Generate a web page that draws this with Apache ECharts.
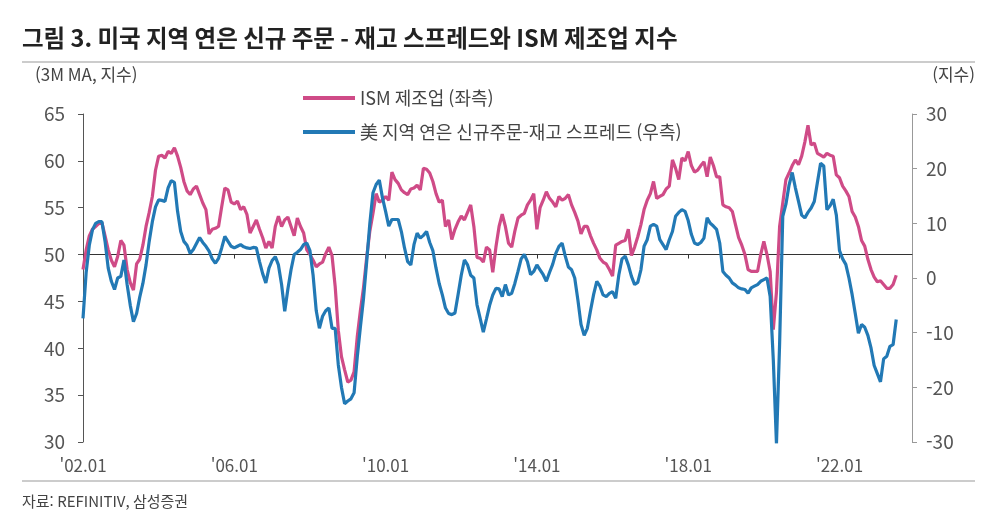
<!DOCTYPE html>
<html lang="ko">
<head>
    <meta charset="UTF-8" />
    <title>미국 지역 연은 신규 주문 - 재고 스프레드와 ISM 제조업 지수</title>
    <style>
        html, body { margin: 0; padding: 0; background: #fff; }
        #main { width: 993px; height: 529px; }
    </style>
</head>
<body>
<div id="main"></div>
<script src="https://cdn.jsdelivr.net/npm/echarts@6/dist/echarts.min.js"></script>
<script type="text/javascript">
    // 월별 카테고리 ('02.01 ~ '23.12)
    var startYear = 2002;
    var endYear = 2023;
    var months = [];
    for (var y = startYear; y <= endYear; y++) {
        for (var mo = 1; mo <= 12; mo++) {
            months.push("'" + String(y).slice(2) + '.' + (mo < 10 ? '0' : '') + mo);
        }
    }
    var labelEvery = 48; // 4년마다 라벨

    // ISM 제조업 (좌측, 3M MA)
    var ismData = [
        48.4, 50.5, 52.0, 52.7, 53.0, 53.3, 53.4, 52.0, 50.5, 49.4, 48.7, 49.8,
        51.5, 51.0, 48.4, 47.0, 46.2, 49.0, 49.5, 51.0, 53.0, 54.5, 56.2, 59.0,
        60.5, 60.6, 60.3, 61.0, 60.8, 61.4, 60.5, 59.3, 57.8, 56.8, 56.4, 57.0,
        57.3, 56.4, 55.5, 54.8, 52.2, 52.7, 52.8, 53.0, 55.1, 57.1, 56.9, 55.6,
        55.4, 55.7, 54.8, 55.1, 54.3, 52.3, 53.0, 53.7, 52.7, 51.8, 50.7, 51.4,
        50.7, 53.0, 54.1, 53.0, 53.7, 54.0, 53.0, 52.0, 53.9, 53.0, 52.3, 50.5,
        50.0, 49.4, 48.7, 49.0, 49.2, 50.1, 50.8, 49.9, 46.6, 41.9, 39.1, 37.7,
        36.4, 36.6, 37.5, 41.2, 44.0, 46.5, 49.7, 52.5, 54.4, 56.5, 55.6, 55.8,
        56.2, 55.8, 58.8, 58.0, 57.6, 56.9, 56.6, 56.4, 57.0, 57.1, 57.4, 56.9,
        59.2, 59.1, 58.7, 57.8, 56.5, 55.6, 55.8, 53.0, 53.7, 51.6, 52.7, 53.5,
        54.1, 53.7, 54.5, 55.3, 53.0, 49.7, 49.6, 49.2, 50.8, 50.5, 48.1, 50.8,
        53.0, 54.3, 53.0, 51.2, 50.8, 52.5, 53.9, 54.2, 54.4, 55.3, 55.8, 56.5,
        52.7, 55.0, 55.8, 56.7, 56.0, 55.6, 55.1, 56.2, 55.8, 56.0, 56.4, 55.3,
        54.5, 53.6, 52.2, 53.0, 53.0, 52.0, 51.2, 50.5, 49.6, 49.2, 49.0, 48.4,
        47.7, 51.0, 51.2, 51.4, 51.5, 52.7, 49.9, 50.8, 51.9, 53.2, 54.8, 55.8,
        56.5, 57.8, 56.0, 56.2, 56.4, 57.0, 57.3, 60.1, 59.2, 58.0, 60.3, 60.0,
        61.0, 59.5, 58.8, 59.0, 59.5, 59.9, 58.3, 60.4, 59.5, 58.3, 58.3, 55.3,
        55.1, 55.0, 54.6, 53.2, 51.8, 51.0, 50.0, 48.4, 48.2, 48.2, 48.2, 50.0,
        51.4, 50.0, 48.2, 42.0, 46.0, 53.0, 55.5, 58.0, 58.7, 59.5, 60.1, 59.6,
        60.5, 62.0, 63.8, 61.7, 61.9, 60.8, 60.6, 60.4, 60.8, 60.6, 60.5, 58.5,
        58.2, 57.3, 56.8, 56.2, 54.6, 54.0, 53.0, 51.5, 50.9, 49.5, 48.4, 47.6,
        47.1, 47.2, 46.8, 46.4, 46.4, 46.8, 47.8
    ];

    // 美 지역 연은 신규주문-재고 스프레드 (우측)
    var spreadData = [
        -7.4, 1.0, 6.0, 8.8, 10.0, 10.3, 10.3, 6.7, 1.8, -0.6, -2.1, 0.0,
        0.3, 3.3, -1.2, -5.0, -8.0, -6.5, -3.5, -1.0, 2.4, 6.7, 10.3, 13.0,
        14.3, 14.2, 14.0, 16.5, 17.8, 17.5, 12.2, 8.5, 6.7, 6.0, 4.5, 5.2,
        6.3, 7.4, 6.5, 5.8, 4.9, 3.5, 2.7, 3.6, 5.5, 7.6, 6.7, 5.8,
        5.5, 5.8, 6.1, 5.7, 5.5, 5.4, 5.6, 5.5, 3.0, 0.8, -0.9, 1.8,
        3.2, 3.9, 2.4, -1.2, -6.1, -2.0, 1.5, 4.3, 4.7, 5.2, 6.1, 6.4,
        5.0, 0.5, -6.0, -9.2, -7.0, -6.0, -5.5, -9.2, -9.2, -15.9, -20.0, -23.0,
        -22.5, -22.1, -21.0, -14.5, -9.0, -3.7, 3.0, 10.0, 15.6, 17.1, 17.9, 14.7,
        12.2, 9.5, 10.7, 10.7, 10.7, 8.5, 5.5, 3.0, 2.4, 6.1, 8.2, 7.3,
        7.8, 8.5, 6.5, 5.0, 1.8, -1.0, -3.1, -5.5, -6.5, -6.7, -6.4, -3.0,
        0.5, 3.3, 2.4, 0.5, 0.0, -4.9, -7.4, -9.9, -7.5, -5.0, -3.1, -1.9,
        -2.0, -3.4, -1.2, -3.1, -2.8, -1.0, 1.2, 3.5, 4.3, 3.0, 0.6, 1.2,
        2.4, 1.5, 0.6, -0.6, 1.0, 2.5, 4.5, 5.8, 6.4, 4.0, 2.0, 1.5,
        0.0, -4.0, -8.5, -10.5, -9.2, -6.0, -3.0, -0.6, -1.5, -3.1, -3.4, -2.8,
        -2.5, -3.7, 0.6, 3.5, 4.0, 2.4, 0.3, -1.2, -0.8, 1.5, 5.8, 7.0,
        9.5, 9.8, 9.5, 7.0, 6.1, 5.2, 7.0, 8.5, 11.3, 12.0, 12.5, 12.2,
        10.5, 8.0, 6.4, 6.1, 6.5, 7.3, 11.0, 10.0, 9.5, 8.9, 6.4, 1.2,
        0.5, 0.0, -0.9, -1.3, -1.8, -2.0, -2.1, -2.8, -1.8, -1.5, -1.2, -0.6,
        -0.3, 0.0, -3.4, -15.0, -30.3, -12.0, 11.3, 13.5, 17.0, 19.3, 16.5, 14.0,
        11.5, 11.0, 12.0, 12.8, 14.0, 17.5, 21.0, 20.5, 12.5, 13.2, 14.4, 11.5,
        5.0, 3.5, 2.5, 0.0, -3.0, -6.5, -10.1, -8.5, -9.0, -10.5, -12.8, -16.0,
        -17.5, -19.0, -14.8, -14.3, -12.5, -12.2, -7.6
    ];

    var ismName = 'ISM 제조업 (좌측)';
    var spreadName = '美 지역 연은 신규주문-재고 스프레드 (우측)';
    var leftRange = [30, 65, 5];
    var rightRange = [-30, 30, 10];
    var baseLevel = 50;

    var fontFamily = '"Noto Sans CJK KR", "Noto Sans", sans-serif';
    var gridTop = 114, gridBottom = 87, chartH = 529;
    var gridH = chartH - gridTop - gridBottom;
    var baseOffset = -gridH * (baseLevel - leftRange[0]) / (leftRange[1] - leftRange[0]);

    var myChart = echarts.init(document.getElementById('main'));

    var option = {
        backgroundColor: '#fff',
        animation: false,
        textStyle: { fontFamily: fontFamily },
        grid: { left: 83, right: 81, top: gridTop, bottom: gridBottom },
        legend: {
            orient: 'vertical',
            left: 298,
            top: 83,
            icon: 'rect',
            itemWidth: 52,
            itemHeight: 4,
            itemGap: 14,
            textStyle: { fontSize: 18, color: '#444', lineHeight: 20, fontFamily: fontFamily },
            data: [ismName, spreadName]
        },
        xAxis: [{
            type: 'category',
            data: months,
            boundaryGap: false,
            axisLine: { show: false },
            axisTick: { show: false },
            axisLabel: {
                interval: function (i) { return i % labelEvery === 0; },
                fontSize: 17, color: '#555', margin: 15, fontFamily: fontFamily
            },
            splitLine: { show: false }
        }, {
            // 50 기준선 (틱 포함)
            type: 'category',
            data: months,
            boundaryGap: false,
            position: 'bottom',
            offset: baseOffset,
            axisLine: { show: true, lineStyle: { color: '#333', width: 1 } },
            axisTick: {
                show: true, length: 4,
                interval: function (i) { return i % labelEvery === 0; },
                lineStyle: { color: '#333' }
            },
            axisLabel: { show: false },
            splitLine: { show: false }
        }],
        yAxis: [{
            type: 'value',
            min: leftRange[0], max: leftRange[1], interval: leftRange[2],
            axisLine: { show: true, lineStyle: { color: '#555', width: 1 } },
            axisTick: { show: true, length: 5, lineStyle: { color: '#555' } },
            axisLabel: { fontSize: 19, color: '#555', margin: 18, fontFamily: fontFamily },
            splitLine: { show: false }
        }, {
            type: 'value',
            min: rightRange[0], max: rightRange[1], interval: rightRange[2],
            position: 'right',
            axisLine: { show: true, lineStyle: { color: '#999', width: 1 } },
            axisTick: { show: true, length: 5, lineStyle: { color: '#999' } },
            axisLabel: { fontSize: 19, color: '#555', margin: 14, fontFamily: fontFamily },
            splitLine: { show: false }
        }],
        series: [{
            name: ismName,
            type: 'line',
            yAxisIndex: 0,
            data: ismData,
            symbol: 'none',
            lineStyle: { width: 3.2, color: '#cf4b87' },
            itemStyle: { color: '#cf4b87' },
            z: 2
        }, {
            name: spreadName,
            type: 'line',
            yAxisIndex: 1,
            data: spreadData,
            symbol: 'none',
            lineStyle: { width: 3.2, color: '#2279b5' },
            itemStyle: { color: '#2279b5' },
            z: 3
        }],
        graphic: [
            {
                type: 'text', left: 22, top: 26,
                style: { text: '그림 3. 미국 지역 연은 신규 주문 - 재고 스프레드와 ISM 제조업 지수', font: 'bold 23.5px ' + fontFamily, fill: '#222' }
            },
            { type: 'line', shape: { x1: 22, y1: 62, x2: 975, y2: 62 }, style: { stroke: '#bbb', lineWidth: 1.5 } },
            {
                type: 'text', left: 35, top: 66,
                style: { text: '(3M MA, 지수)', font: '17px ' + fontFamily, fill: '#444' }
            },
            {
                type: 'text', right: 18, top: 66,
                style: { text: '(지수)', font: '17px ' + fontFamily, fill: '#444' }
            },
            { type: 'line', shape: { x1: 22, y1: 481, x2: 975, y2: 481 }, style: { stroke: '#bbb', lineWidth: 1.5 } },
            {
                type: 'text', left: 22, top: 494,
                style: { text: '자료: REFINITIV, 삼성증권', font: '15px ' + fontFamily, fill: '#444' }
            }
        ]
    };

    myChart.setOption(option);
</script>
</body>
</html>
